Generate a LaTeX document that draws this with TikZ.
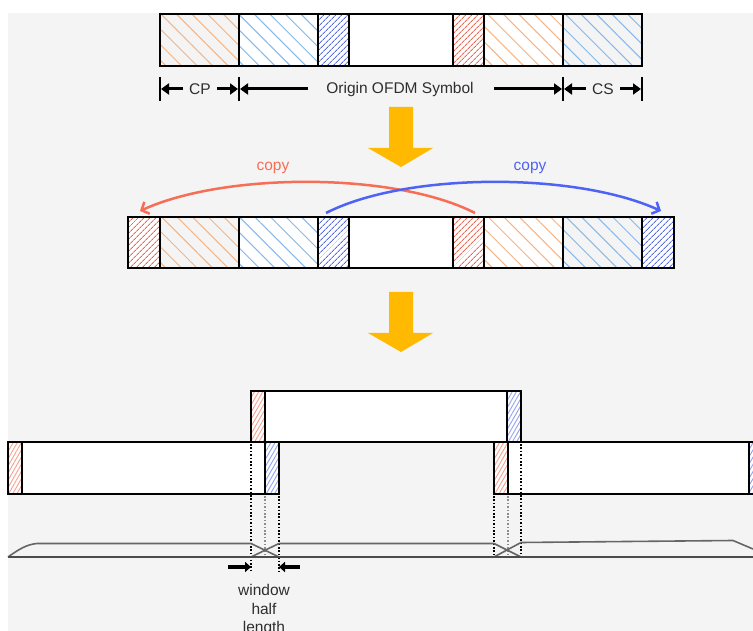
\documentclass[tikz,border=0pt]{standalone}
\usepackage{fontspec}
\setmainfont{Liberation Sans}
\usetikzlibrary{patterns.meta,arrows.meta,calc}
\definecolor{bg}{HTML}{F4F4F4}
\definecolor{hOr}{HTML}{F5B585}
\definecolor{hBl}{HTML}{85B8EC}
\definecolor{dBl}{HTML}{5468F0}
\definecolor{dRd}{HTML}{F0654F}
\definecolor{lRd}{HTML}{F6A090}
\definecolor{lBl}{HTML}{95A2F0}
\definecolor{arr}{HTML}{FFB900}
\definecolor{cpR}{HTML}{F56E55}
\definecolor{cpB}{HTML}{4D63F5}
\definecolor{txt}{HTML}{2E2E2E}
\definecolor{win}{HTML}{666666}
\newcommand\segbox[6]{%
  \pgfmathsetmacro\segW{#3-#2}%
  \pgfmathsetmacro\segH{#5-#4}%
  \node[#6, minimum width=\segW pt, minimum height=\segH pt] (#1) at ({(#2+#3)/2},{(#4+#5)/2}) {};}
\tikzset{
  seg/.style={draw=black,line width=2.6pt,inner sep=0pt,outer sep=0pt},
  wseg/.style={seg,fill=white},
  spOr/.style={seg,pattern={Lines[angle=-45,distance=11pt,line width=1pt]},pattern color=hOr},
  spOrW/.style={spOr,preaction={fill=white}},
  spBl/.style={seg,pattern={Lines[angle=-45,distance=11pt,line width=1pt]},pattern color=hBl},
  spBlW/.style={spBl,preaction={fill=white}},
  dnBl/.style={seg,preaction={fill=white},pattern={Lines[angle=45,distance=4pt,line width=1pt]},pattern color=dBl},
  dnRd/.style={seg,preaction={fill=white},pattern={Lines[angle=45,distance=4pt,line width=1pt]},pattern color=dRd},
  ltRd/.style={seg,preaction={fill=white},pattern={Lines[angle=60,distance=3.6pt,line width=0.9pt]},pattern color=lRd},
  ltBl/.style={seg,preaction={fill=white},pattern={Lines[angle=60,distance=3.6pt,line width=0.9pt]},pattern color=lBl},
  lab/.style={line width=3pt,-{Triangle[length=8pt,width=11pt]}},
  tick/.style={line width=2.4pt},
  txtnode/.style={font=\fontsize{15.5}{18.5}\selectfont,text=txt,inner sep=0pt},
  dotline/.style={line width=1.5pt,dash pattern=on 1.6pt off 1.8pt,draw=black},
  dotgray/.style={dotline,draw=black!45},
  winline/.style={draw=win,line width=1.6pt,line join=round},
  copyarr/.style={line width=2.5pt,-{Straight Barb[length=6pt,width=13pt,line width=2.5pt]}},
  downarr/.style={fill=arr},
  bott/.style={line width=3.6pt,-{Triangle[length=6pt,width=10pt]}}
}
\begin{document}
\begin{tikzpicture}[x=1pt,y=-1pt]
\useasboundingbox (0,0) rectangle (753,631);
\clip (0,0) rectangle (753,631);
\fill[white] (0,0) rectangle (753,631);
\fill[bg] (8,13) rectangle (753,631);

% ---------- Row 1 ----------
\segbox{aCP}{160}{239}{14}{66}{spOr}
\segbox{aB1}{239}{318}{14}{66}{spBlW}
\segbox{aD1}{318}{349}{14}{66}{dnBl}
\segbox{aW}{349}{453}{14}{66}{wseg}
\segbox{aD2}{453}{484}{14}{66}{dnRd}
\segbox{aO2}{484}{563}{14}{66}{spOrW}
\segbox{aCS}{563}{642}{14}{66}{spBl}

% labels
\coordinate (k1a) at (160,77); \coordinate (k1b) at (160,101);
\coordinate (k2a) at (239,77); \coordinate (k2b) at (239,101);
\coordinate (k3a) at (563,77); \coordinate (k3b) at (563,101);
\coordinate (k4a) at (642,77); \coordinate (k4b) at (642,101);
\draw[tick] (k1a) -- (k1b);
\draw[tick] (k2a) -- (k2b);
\draw[tick] (k3a) -- (k3b);
\draw[tick] (k4a) -- (k4b);
\node[txtnode] (lcp) at (200,89) {CP};
\node[txtnode] (lsym) at (400,89) {Origin OFDM Symbol};
\node[txtnode] (lcs) at (603,89) {CS};
\coordinate (a1s) at (183,89); \coordinate (a1e) at (161,89);
\coordinate (a2s) at (217,89); \coordinate (a2e) at (238,89);
\coordinate (a3s) at (308,89); \coordinate (a3e) at (240,89);
\coordinate (a4s) at (494,89); \coordinate (a4e) at (562,89);
\coordinate (a5s) at (586,89); \coordinate (a5e) at (564,89);
\coordinate (a6s) at (620,89); \coordinate (a6e) at (641,89);
\draw[lab] (a1s) -- (a1e);
\draw[lab] (a2s) -- (a2e);
\draw[lab] (a3s) -- (a3e);
\draw[lab] (a4s) -- (a4e);
\draw[lab] (a5s) -- (a5e);
\draw[lab] (a6s) -- (a6e);

% ---------- down arrows ----------
\fill[downarr] (389,107) -- (413,107) -- (413,148) -- (433,148) -- (401,167) -- (368,148) -- (389,148) -- cycle;
\fill[downarr] (389,292) -- (413,292) -- (413,333) -- (433,333) -- (401,352) -- (368,333) -- (389,333) -- cycle;

% ---------- Row 2 ----------
\segbox{bR0}{128}{160}{217}{268}{dnRd}
\segbox{bCP}{160}{239}{217}{268}{spOr}
\segbox{bB1}{239}{318}{217}{268}{spBlW}
\segbox{bD1}{318}{349}{217}{268}{dnBl}
\segbox{bW}{349}{453}{217}{268}{wseg}
\segbox{bD2}{453}{484}{217}{268}{dnRd}
\segbox{bO2}{484}{563}{217}{268}{spOrW}
\segbox{bCS}{563}{642}{217}{268}{spBl}
\segbox{bB3}{642}{674}{217}{268}{dnBl}

\coordinate (rs) at (475,213); \coordinate (re) at (140,211);
\coordinate (bs) at (326,213); \coordinate (be) at (661,211);
\draw[copyarr,cpR] (rs) .. controls (395,172) and (225,172) .. (re);
\draw[copyarr,cpB] (bs) .. controls (406,172) and (576,172) .. (be);
\node[txtnode,text=cpR] (cr) at (273,168) {copy};
\node[txtnode,text=cpB] (cb) at (530,168) {copy};

% ---------- Row 3 ----------
\segbox{cR}{251}{265}{391}{442}{ltRd}
\segbox{cW}{265}{507}{391}{442}{wseg}
\segbox{cB}{507}{521}{391}{442}{ltBl}
\segbox{dR}{8}{22}{442}{494}{ltRd}
\segbox{dW}{22}{265}{442}{494}{wseg}
\segbox{dB}{265}{279}{442}{494}{ltBl}
\segbox{eR}{494}{508}{442}{494}{ltRd}
\segbox{eW}{508}{749}{442}{494}{wseg}
\segbox{eB}{749}{763}{442}{494}{ltBl}

% dotted guide lines
\coordinate (g1a) at (251,444); \coordinate (g1b) at (251,572);
\coordinate (g2a) at (265,496); \coordinate (g2b) at (265,557);
\coordinate (g3a) at (279,496); \coordinate (g3b) at (279,572);
\coordinate (g4a) at (494,496); \coordinate (g4b) at (494,557);
\coordinate (g5a) at (508,496); \coordinate (g5b) at (508,557);
\coordinate (g6a) at (521,444); \coordinate (g6b) at (521,557);
\draw[dotline] (g1a) -- (g1b);
\draw[dotgray] (g2a) -- (g2b);
\draw[dotline] (g3a) -- (g3b);
\draw[dotline] (g4a) -- (g4b);
\draw[dotgray] (g5a) -- (g5b);
\draw[dotline] (g6a) -- (g6b);

% windows
\draw[winline] (8,557) .. controls (18,550) and (26,544.5) .. (37,543.5) -- (251,543.5) -- (279,557);
\draw[winline] (251,557) -- (279,543.5) -- (494,543.5) -- (521,557);
\draw[winline] (494,557) -- (521,542.5) -- (733,540.5) -- (753,549);
\coordinate (base1) at (8,557); \coordinate (base2) at (753,557);
\draw[draw=black!70,line width=1.8pt] (base1) -- (base2);

% window half length
\coordinate (w1s) at (228,567); \coordinate (w1e) at (251,567);
\coordinate (w2s) at (300,567); \coordinate (w2e) at (279,567);
\draw[bott] (w1s) -- (w1e);
\draw[bott] (w2s) -- (w2e);
\node[txtnode,align=center] (whl) at (264,610) {window\\half\\length};
\end{tikzpicture}
\end{document}
